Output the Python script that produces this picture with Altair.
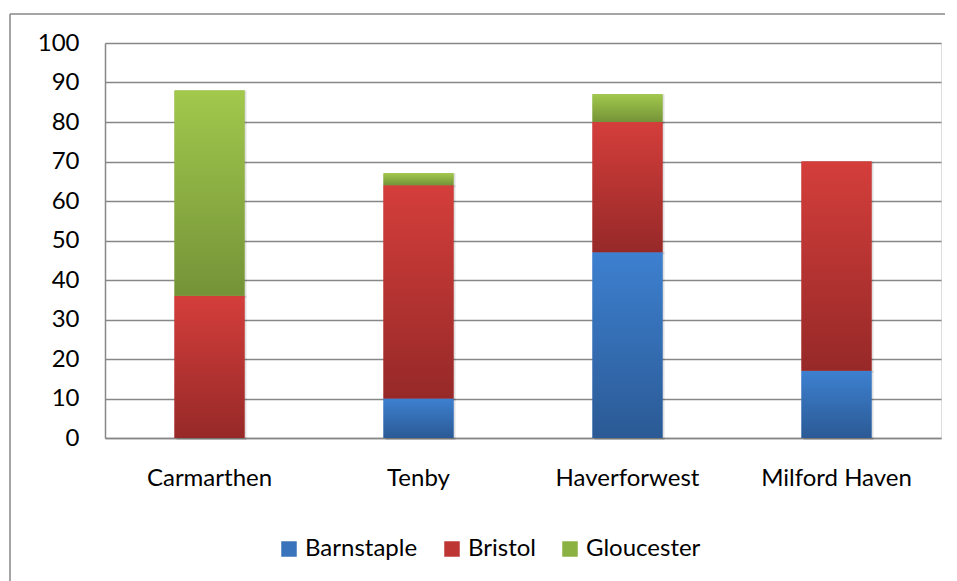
import altair as alt
import pandas as pd

towns = ["Carmarthen", "Tenby", "Haverforwest", "Milford Haven"]
series = ["Barnstaple", "Bristol", "Gloucester"]
barnstaple = [0, 10, 47, 17]
bristol = [36, 54, 33, 53]
gloucester = [52, 3, 7, 0]

legend_colors = ["#3873bb", "#bd3634", "#8bb143"]
gradients = {
    "Barnstaple": ("#3d80d0", "#2b5a95"),
    "Bristol": ("#d43e3b", "#962928"),
    "Gloucester": ("#a2c84c", "#749338"),
}

rows = []
for i, t in enumerate(towns):
    for k, (s, vals) in enumerate(zip(series, [barnstaple, bristol, gloucester])):
        rows.append({"town": t, "series": s, "order": k, "value": vals[i]})
df = pd.DataFrame(rows)

FONT = "Lato"
FS = 24
GRID = "#878787"
BAR_W = 70

base = alt.Chart(df).transform_stack(
    stack="value", as_=["y0", "y1"], groupby=["town"],
    sort=[alt.SortField("order", order="ascending")]
)

xenc = alt.X("town:N", sort=towns, title=None,
             scale=alt.Scale(paddingInner=0, paddingOuter=0),
             axis=alt.Axis(labelAngle=0, labelAlign="center", labelBaseline="top",
                           ticks=False, domain=True, domainColor=GRID,
                           domainWidth=1.5, labelPadding=28, labelFontSize=FS,
                           labelFont=FONT, labelColor="#000000", grid=False,
                           labelOverlap=False))
yenc = alt.Y("y0:Q", title=None,
             scale=alt.Scale(domain=[0, 100], nice=False),
             axis=alt.Axis(values=list(range(0, 101, 10)), ticks=False, domain=True,
                           domainColor=GRID, domainWidth=1.5, grid=True, gridColor=GRID,
                           gridWidth=1.5, labelPadding=26, labelFontSize=FS,
                           labelFont=FONT, labelColor="#000000", labelOverlap=False,
                           labelFlush=False))

legend_layer = base.mark_bar(size=BAR_W).encode(
    x=xenc, y=yenc, y2="y1:Q",
    color=alt.Color("series:N", sort=series,
                    scale=alt.Scale(domain=series, range=legend_colors),
                    legend=alt.Legend(title=None, orient="none", direction="horizontal",
                                      legendX=172, legendY=494, symbolType="square",
                                      symbolSize=240, symbolStrokeWidth=0,
                                      labelFontSize=FS, labelFont=FONT,
                                      labelColor="#000000", columnPadding=22,
                                      labelOffset=4)),
)

shadow = base.mark_bar(size=BAR_W, color="#000000", opacity=0.12, xOffset=2, yOffset=2).encode(
    x=xenc, y=yenc, y2="y1:Q"
).transform_filter(alt.datum.value > 0)

grad_layers = []
for s in series:
    top, bot = gradients[s]
    g = alt.Gradient(gradient="linear",
                     stops=[alt.GradientStop(color=top, offset=0),
                            alt.GradientStop(color=bot, offset=1)],
                     x1=0, x2=0, y1=0, y2=1)
    grad_layers.append(
        base.transform_filter(alt.datum.series == s).mark_bar(size=BAR_W, color=g).encode(
            x=xenc, y=yenc, y2="y1:Q"
        )
    )

one = pd.DataFrame({"a": [0]})
frame_top = alt.Chart(one).mark_rule(color=GRID, strokeWidth=1.5).encode(
    x=alt.value(-95), x2=alt.value(870), y=alt.value(-29))
frame_left = alt.Chart(one).mark_rule(color=GRID, strokeWidth=1.5).encode(
    x=alt.value(-95), y=alt.value(-29), y2=alt.value(600))

chart = alt.layer(shadow, legend_layer, *grad_layers, frame_top, frame_left).properties(
    width=836, height=395,
    autosize=alt.AutoSizeParams(type="none"),
    padding={"left": 97, "top": 35, "right": 4, "bottom": 145},
).configure_view(stroke=None).configure(background="#ffffff")

chart.save("out.html", embed_options={"renderer": "svg", "actions": False})
